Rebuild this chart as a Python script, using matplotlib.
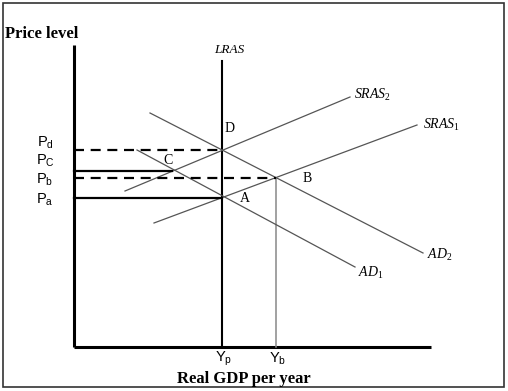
import matplotlib
matplotlib.use("Agg")
import matplotlib.pyplot as plt
from matplotlib.patches import Rectangle

plt.rcParams['mathtext.fontset'] = 'custom'
plt.rcParams['mathtext.rm'] = 'Liberation Serif'
plt.rcParams['mathtext.it'] = 'Liberation Serif:italic'
plt.rcParams['mathtext.sf'] = 'Liberation Sans'

# price levels and output levels (chart units, origin at the axis corner)
price_names = ["d", "C", "b", "a"]
price_levels = [197, 176, 169, 149]
output_names = ["p", "b"]
output_levels = [148, 202]

# curve end points
sras1_x = [80, 343]
sras1_y = [124, 222]
sras2_x = [51, 276]
sras2_y = [156, 250]
ad1_x = [63, 281]
ad1_y = [197, 80]
ad2_x = [76, 349]
ad2_y = [234, 94]
lras_top = 286
x_axis_end = 357
y_axis_top = 302

# equilibrium points: (name, x, y)
points = [("A", 148, 149), ("B", 202, 169), ("C", 98, 176), ("D", 148, 197)]

fig = plt.figure(figsize=(5.08, 3.91), dpi=100)
ax = fig.add_axes([0, 0, 1, 1])
ax.set_xlim(-74, 434)
ax.set_ylim(-44, 347)
ax.axis("off")

# frame around the picture
ax.add_patch(Rectangle((0.005, 0.01), 0.988, 0.982, transform=ax.transAxes,
                       fill=False, ec="#333333", lw=1.2))

# axes
ax.plot([0, 0], [0, y_axis_top], color="black", lw=2.2, solid_capstyle="butt")
ax.plot([0, x_axis_end], [0, 0], color="black", lw=2.2, solid_capstyle="butt")

Yp, Yb = output_levels
Pd, Pc, Pb, Pa = price_levels

# LRAS and Yb guide
ax.plot([Yp, Yp], [0, lras_top], color="black", lw=1.5)
ax.plot([Yb, Yb], [0, Pb], color="#888888", lw=1.1)

# curves
for xs, ys in [(sras1_x, sras1_y), (sras2_x, sras2_y), (ad1_x, ad1_y), (ad2_x, ad2_y)]:
    ax.plot(xs, ys, color="#555555", lw=0.9)

# price level guides
ax.plot([0, Yp], [Pa, Pa], color="black", lw=1.6)
ax.plot([0, points[2][1]], [Pc, Pc], color="black", lw=1.6)
ax.plot([0, Yb], [Pb, Pb], color="black", lw=1.6, ls=(0, (4.5, 3)))
ax.plot([0, Yp], [Pd, Pd], color="black", lw=1.6, ls=(0, (4.5, 3)))

serif = dict(family="Liberation Serif")
ax.text(-69, 313, "Price level", fontsize=12, fontweight="bold", va="center", **serif)
ax.text(170, -32, "Real GDP per year", fontsize=12, fontweight="bold",
        ha="center", va="center", **serif)
ax.text(Yp + 7, lras_top + 11, "LRAS", fontsize=9.5, style="italic", ha="center", va="center", **serif)

# point labels
offsets = {"A": (23, 0), "B": (31, 0), "C": (-4, 11), "D": (8, 22)}
for name, x, y in points:
    dx, dy = offsets[name]
    ax.text(x + dx, y + dy, name, fontsize=10, ha="center", va="center", **serif)

# curve labels
ax.text(sras2_x[1] + 4, sras2_y[1] + 2, r"$\mathit{SRAS}_{\mathit{2}}$", fontsize=10, va="center")
ax.text(sras1_x[1] + 6, sras1_y[1] + 0, r"$\mathit{SRAS}_{\mathit{1}}$", fontsize=10, va="center")
ax.text(ad2_x[1] + 4, ad2_y[1] - 2, r"$\mathit{AD}_{\mathit{2}}$", fontsize=10, va="center")
ax.text(ad1_x[1] + 3, ad1_y[1] - 6, r"$\mathit{AD}_{\mathit{1}}$", fontsize=10, va="center")

# price tick labels
label_y = [204, 186, 167, 147]
for name, ly in zip(price_names, label_y):
    ax.text(-29, ly, r"$\mathsf{P}_{\mathsf{%s}}$" % name, fontsize=10.5, ha="center", va="center")

# output tick labels
for name, x in zip(output_names, output_levels):
    ax.text(x + 2, -12, r"$\mathsf{Y}_{\mathsf{%s}}$" % name, fontsize=10.5, ha="center", va="center")

fig.savefig("out.png", dpi=100)
